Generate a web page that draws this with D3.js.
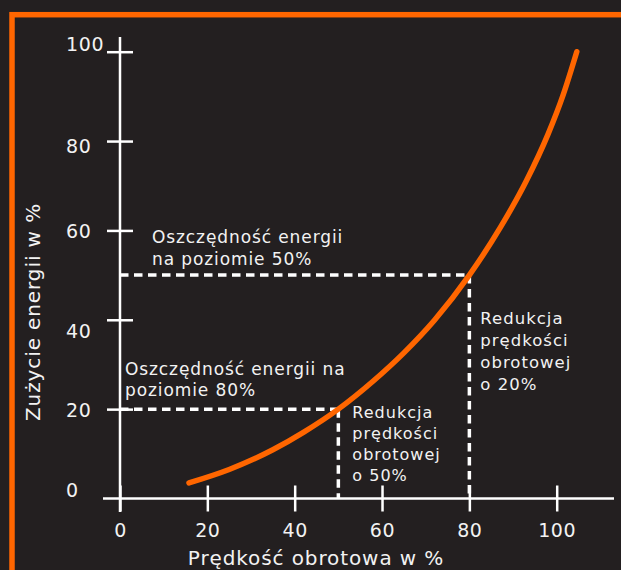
<!DOCTYPE html>
<html>
<head>
<meta charset="utf-8">
<script src="https://cdn.jsdelivr.net/npm/d3@7"></script>
<style>
  html, body { margin: 0; padding: 0; background: #231f20; }
  svg { display: block; }
  text { font-family: "DejaVu Sans", sans-serif; fill: #f2f2f2; }
</style>
</head>
<body>
<div id="chart"></div>
<script>
// curve: speed (%) -> energy (%)
var speed  = [15.8, 25, 35, 42, 50, 58, 65, 72, 80, 87, 93, 98, 101.5, 104.6];
var energy = [3.5, 6.5, 10.9, 14.8, 20, 26.3, 32.6, 39.9, 50, 60.5, 71, 81.5, 90.4, 100];

var xTicks = [0, 20, 40, 60, 80, 100];
var yTicks = [0, 20, 40, 60, 80, 100];

// guide lines: [speed, energy]
var guides = [[80, 50], [50, 20]];

var savingLabels = [
  ["Oszczędność energii", "na poziomie 50%"],
  ["Oszczędność energii na", "poziomie 80%"]
];
var reductionLabels = [
  ["Redukcja", "prędkości", "obrotowej", "o 20%"],
  ["Redukcja", "prędkości", "obrotowej", "o 50%"]
];
var xTitle = "Prędkość obrotowa w %";
var yTitle = "Zużycie energii w %";

var width = 621, height = 570;
var orange = "#ff6600";

var svg = d3.select("#chart").append("svg")
    .attr("width", width)
    .attr("height", height);

svg.append("rect")
    .attr("width", width).attr("height", height)
    .attr("fill", "#231f20");

// orange frame running off the right and bottom edge
svg.append("rect")
    .attr("x", 12).attr("y", 14.7)
    .attr("width", width + 20).attr("height", height + 20)
    .attr("fill", "none")
    .attr("stroke", orange)
    .attr("stroke-width", 5.5);

var x = d3.scaleLinear().domain([0, 100]).range([120, 556.7]);
var y = d3.scaleLinear().domain([0, 100]).range([498.5, 51.7]);

// x axis
var gx = svg.append("g")
    .attr("transform", "translate(0," + y(0) + ")")
    .call(d3.axisBottom(x).tickValues(xTicks).tickSize(13).tickPadding(0));
gx.select(".domain").remove();
gx.selectAll(".tick line")
    .attr("y1", -13).attr("y2", 13)
    .attr("stroke", "#fff").attr("stroke-width", 2.5);
gx.selectAll(".tick text")
    .attr("y", 38)
    .attr("dy", null)
    .style("font-size", "19px")
    .style("letter-spacing", "0.6px")
    .attr("fill", "#f2f2f2");
gx.append("line")
    .attr("x1", 103).attr("x2", 614)
    .attr("stroke", "#fff").attr("stroke-width", 2.5);

// y axis
var labelNudge = {100: -8, 80: 4, 40: 11, 0: -9};
var gy = svg.append("g")
    .attr("transform", "translate(" + x(0) + ",0)")
    .call(d3.axisLeft(y).tickValues(yTicks).tickSize(13));
gy.select(".domain").remove();
gy.selectAll(".tick line")
    .attr("x1", -13).attr("x2", 13)
    .attr("stroke", "#fff").attr("stroke-width", 2.5);
gy.selectAll(".tick").filter(function(d) { return d === 0; }).select("line").remove();
gy.selectAll(".tick text")
    .attr("text-anchor", "start")
    .attr("x", 66 - x(0))
    .attr("dy", function(d) { return (labelNudge[d] || 0) + 7; })
    .style("font-size", "19px")
    .style("letter-spacing", "0.6px")
    .attr("fill", "#f2f2f2");
gy.append("line")
    .attr("y1", 37).attr("y2", 512)
    .attr("stroke", "#fff").attr("stroke-width", 2.5);

// dashed guides
guides.forEach(function(g) {
  svg.append("line")
      .attr("x1", x(0)).attr("x2", x(g[0]))
      .attr("y1", y(g[1])).attr("y2", y(g[1]))
      .attr("stroke", "#fff").attr("stroke-width", 3.5)
      .attr("stroke-dasharray", "8.5,5.5");
  svg.append("line")
      .attr("x1", x(g[0])).attr("x2", x(g[0]))
      .attr("y1", y(g[1])).attr("y2", y(0))
      .attr("stroke", "#fff").attr("stroke-width", 3.5)
      .attr("stroke-dasharray", "8.5,5.5");
});

// curve
var pts = speed.map(function(s, i) { return [s, energy[i]]; });
var line = d3.line()
    .x(function(d) { return x(d[0]); })
    .y(function(d) { return y(d[1]); })
    .curve(d3.curveMonotoneX);
svg.append("path")
    .datum(pts)
    .attr("d", line)
    .attr("fill", "none")
    .attr("stroke", orange)
    .attr("stroke-width", 5.5)
    .attr("stroke-linecap", "round");

// annotations
function block(lines, x0, y0, lh, size, ls) {
  var t = svg.append("text")
      .attr("x", x0).attr("y", y0)
      .style("font-size", size + "px")
      .style("letter-spacing", ls + "px");
  lines.forEach(function(s, i) {
    t.append("tspan").attr("x", x0).attr("y", y0 + i * lh).text(s);
  });
}
block(savingLabels[0], x(0) + 32, y(50) - 32, 22, 17, 0.9);
block(savingLabels[1], x(0) + 5, y(20) - 34, 21, 17, 0.9);
block(reductionLabels[0], x(80) + 11, y(50) + 49, 22, 16.5, 1.0);
block(reductionLabels[1], x(50) + 14, y(20) + 9, 21, 16, 1.0);

// axis titles
svg.append("text")
    .attr("x", 316).attr("y", 565)
    .attr("text-anchor", "middle")
    .style("font-size", "20px")
    .style("letter-spacing", "0.9px")
    .text(xTitle);
svg.append("text")
    .attr("transform", "translate(40,312) rotate(-90)")
    .attr("text-anchor", "middle")
    .style("font-size", "20px")
    .style("letter-spacing", "0.9px")
    .text(yTitle);
</script>
</body>
</html>
